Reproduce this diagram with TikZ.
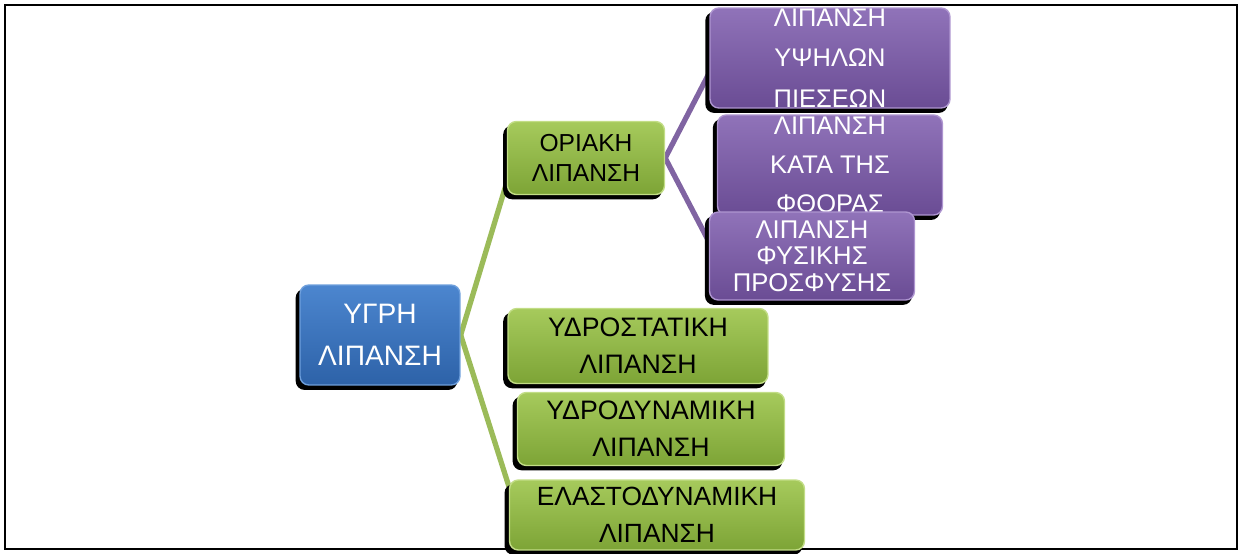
\documentclass[tikz,border=0pt]{standalone}
\usepackage{fontspec}
\setmainfont{Liberation Sans}
\usetikzlibrary{shadows,backgrounds}

\definecolor{bluetop}{HTML}{4C86CF}
\definecolor{bluebot}{HTML}{2D62A8}
\definecolor{blueedge}{HTML}{6E9FDC}
\definecolor{greentop}{HTML}{A6CA5C}
\definecolor{greenbot}{HTML}{7DA436}
\definecolor{greenedge}{HTML}{C2DD86}
\definecolor{purptop}{HTML}{9073B9}
\definecolor{purpbot}{HTML}{6A4C94}
\definecolor{purpedge}{HTML}{AE95D0}
\definecolor{greenline}{HTML}{9BBB59}
\definecolor{purpline}{HTML}{8064A2}

\begin{document}
\begin{tikzpicture}[x=0.02cm, y=-0.02cm,
  box/.style={rounded corners=5pt, inner sep=0pt, align=center, line width=0.8pt,
    drop shadow={shadow xshift=-2pt, shadow yshift=-2.5pt, shadow scale=1.01, fill=black, opacity=1}},
  rootbox/.style={box, top color=bluetop, bottom color=bluebot, draw=blueedge, text=white},
  greenbox/.style={box, top color=greentop, bottom color=greenbot, draw=greenedge, text=black},
  purplebox/.style={box, top color=purptop, bottom color=purpbot, draw=purpedge, text=white},
  greenlink/.style={draw=greenline, line width=3pt},
  purplelink/.style={draw=purpline, line width=3pt}]
  \useasboundingbox (0,0) rectangle (1242,554);

  % root
  \node[rootbox, minimum width=3.2cm, minimum height=2cm,
    font=\fontsize{16}{24}\selectfont] (root) at (380,335) {ΥΓΡΗ\\ΛΙΠΑΝΣΗ};

  % first level
  \node[greenbox, minimum width=3.14cm, minimum height=1.46cm,
    font=\fontsize{14}{17}\selectfont] (oriaki) at (586,158) {ΟΡΙΑΚΗ\\ΛΙΠΑΝΣΗ};
  \node[greenbox, minimum width=5.2cm, minimum height=1.5cm,
    font=\fontsize{15.2}{21}\selectfont] (hydrostatic) at (638,346) {ΥΔΡΟΣΤΑΤΙΚΗ\\ΛΙΠΑΝΣΗ};
  \node[greenbox, minimum width=5.34cm, minimum height=1.46cm,
    font=\fontsize{15.2}{21}\selectfont] (hydrodynamic) at (651,429) {ΥΔΡΟΔΥΝΑΜΙΚΗ\\ΛΙΠΑΝΣΗ};
  \node[greenbox, minimum width=5.9cm, minimum height=1.4cm,
    font=\fontsize{15}{21}\selectfont] (elastodynamic) at (657,515) {ΕΛΑΣΤΟΔΥΝΑΜΙΚΗ\\ΛΙΠΑΝΣΗ};

  % second level
  \node[purplebox, minimum width=4.8cm, minimum height=2cm,
    font=\fontsize{14.5}{23}\selectfont] (pressure) at (830,58) {ΛΙΠΑΝΣΗ\\ΥΨΗΛΩΝ\\ΠΙΕΣΕΩΝ};
  \node[purplebox, minimum width=4.5cm, minimum height=2cm,
    font=\fontsize{14.5}{22}\selectfont] (wear) at (830,165) {ΛΙΠΑΝΣΗ\\ΚΑΤΑ ΤΗΣ\\ΦΘΟΡΑΣ};
  \node[purplebox, minimum width=4.1cm, minimum height=1.76cm,
    font=\fontsize{14.6}{15}\selectfont] (adhesion) at (812,256) {ΛΙΠΑΝΣΗ\\ΦΥΣΙΚΗΣ\\ΠΡΟΣΦΥΣΗΣ};

  \begin{scope}[on background layer]
    \draw[line width=0.8pt] (5,5) rectangle (1237,549);
    % branches
    \draw[greenlink] (root.east) -- (oriaki.197);
    \draw[greenlink] (root.east) -- (elastodynamic.169);
    \draw[purplelink] (oriaki.east) -- (pressure.187);
    \draw[purplelink] (oriaki.east) -- (adhesion.172);
  \end{scope}
\end{tikzpicture}
\end{document}
